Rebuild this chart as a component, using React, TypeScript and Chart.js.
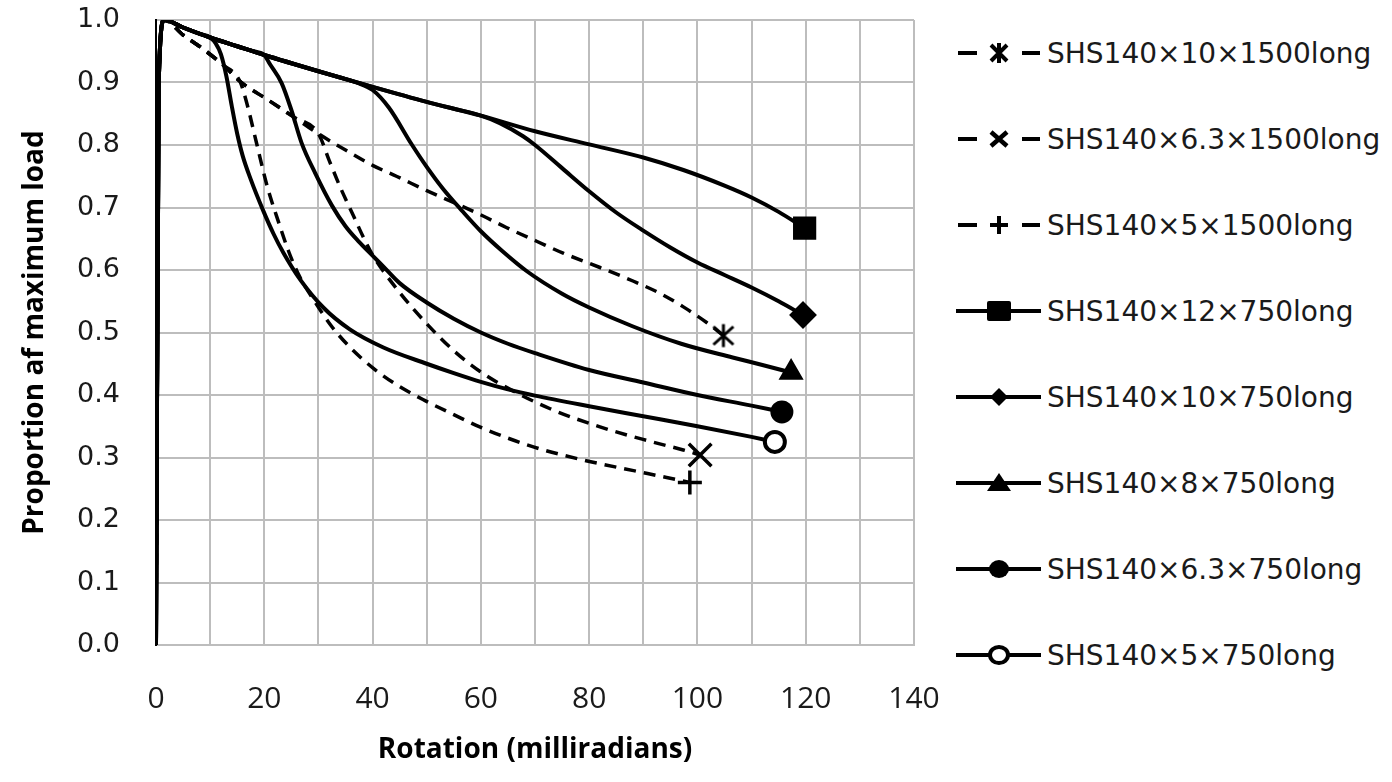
import React, { useEffect, useRef } from "react";
import { Chart, registerables } from "chart.js";

Chart.register(...registerables);

// ---------------- data ----------------
const seriesLabels = [
  "SHS140×10×1500long",
  "SHS140×6.3×1500long",
  "SHS140×5×1500long",
  "SHS140×12×750long",
  "SHS140×10×750long",
  "SHS140×8×750long",
  "SHS140×6.3×750long",
  "SHS140×5×750long",
];

const xTickLabels = ["0", "20", "40", "60", "80", "100", "120", "140"];
const yTickLabels = ["0.0", "0.1", "0.2", "0.3", "0.4", "0.5", "0.6", "0.7", "0.8", "0.9", "1.0"];

// SHS140×10×1500long
const rot10x1500 = [0, 0.5, 1.5, 5, 8, 12.4, 15.5, 20.7, 25.4, 30, 34.2, 40.1, 44.4, 50, 55.5, 59.8, 64.7, 70.3, 75.2, 82, 88.2, 93, 97.4, 101.7, 104.8];
const load10x1500 = [0, 0.9, 1.0, 0.976, 0.958, 0.928, 0.902, 0.872, 0.845, 0.818, 0.796, 0.767, 0.75, 0.727, 0.706, 0.689, 0.668, 0.646, 0.627, 0.604, 0.582, 0.563, 0.541, 0.516, 0.495];

// SHS140×6.3×1500long
const rot6p3x1500 = [0, 0.5, 1.5, 5, 8, 12.4, 15.5, 20.7, 25.4, 30, 32, 34, 36.4, 38.6, 40, 42, 45.1, 47.5, 51.2, 55.5, 59.8, 63.5, 72.8, 82, 91.2, 97.4, 100.5];
const load6p3x1500 = [0, 0.9, 1.0, 0.976, 0.958, 0.928, 0.902, 0.872, 0.845, 0.818, 0.775, 0.733, 0.688, 0.647, 0.624, 0.598, 0.563, 0.538, 0.503, 0.467, 0.438, 0.418, 0.378, 0.349, 0.326, 0.312, 0.304];

// SHS140×5×1500long
const rot5x1500 = [0, 0.5, 1.5, 5, 8, 12.4, 15.5, 16.8, 18.6, 20.5, 22.7, 24.4, 26.2, 29.5, 32.6, 36.1, 40.1, 44.5, 49.7, 54.9, 60.3, 69.7, 78.9, 88.2, 94.3, 98.6];
const load5x1500 = [0, 0.9, 1.0, 0.976, 0.958, 0.928, 0.902, 0.866, 0.802, 0.735, 0.675, 0.632, 0.595, 0.547, 0.508, 0.474, 0.443, 0.416, 0.391, 0.369, 0.347, 0.317, 0.296, 0.279, 0.268, 0.26];

// SHS140×12×750long
const rot12x750 = [0, 0.5, 1.5, 5, 10, 15, 20, 30, 40, 50, 60, 70, 80, 90, 97.4, 105, 110, 115, 119.8];
const load12x750 = [0, 0.9, 1.0, 0.988, 0.972, 0.958, 0.944, 0.918, 0.893, 0.869, 0.847, 0.822, 0.801, 0.78, 0.76, 0.735, 0.716, 0.693, 0.667];

// SHS140×10×750long
const rot10x750 = [0, 0.5, 1.5, 5, 10, 15, 20, 30, 40, 50, 55, 60, 63.5, 67.8, 70, 75, 80, 85, 90, 95, 100, 105, 110, 115, 119.5];
const load10x750 = [0, 0.9, 1.0, 0.988, 0.972, 0.958, 0.944, 0.918, 0.893, 0.869, 0.858, 0.847, 0.835, 0.814, 0.8, 0.763, 0.726, 0.692, 0.663, 0.636, 0.612, 0.592, 0.572, 0.55, 0.528];

// SHS140×8×750long
const rot8x750 = [0, 0.5, 1.5, 5, 10, 15, 20, 30, 34, 37, 40, 43, 47.3, 50, 53, 56.6, 60, 64, 68.5, 75, 80, 88, 97, 106.5, 112, 117.3];
const load8x750 = [0, 0.9, 1.0, 0.988, 0.972, 0.958, 0.944, 0.918, 0.908, 0.9, 0.888, 0.86, 0.8, 0.765, 0.73, 0.694, 0.662, 0.63, 0.598, 0.562, 0.54, 0.51, 0.482, 0.46, 0.448, 0.436];

// SHS140×6.3×750long
const rot6p3x750 = [0, 0.5, 1.5, 5, 10, 15, 18, 20, 21, 23.2, 25, 26.9, 29.4, 32.5, 35, 37.5, 40, 42.5, 45, 50, 55, 60, 65, 70, 80, 90, 100, 110, 115.6];
const load6p3x750 = [0, 0.9, 1.0, 0.988, 0.972, 0.958, 0.95, 0.944, 0.93, 0.899, 0.856, 0.803, 0.755, 0.703, 0.67, 0.645, 0.623, 0.601, 0.579, 0.548, 0.522, 0.5, 0.482, 0.467, 0.44, 0.42, 0.4, 0.383, 0.373];

// SHS140×5×750long
const rot5x750 = [0, 0.5, 1.5, 5, 8, 10, 11, 12, 13, 14, 15, 16, 17.5, 19.8, 21.7, 23.5, 26.6, 30.9, 35.8, 42, 50, 55, 60, 65, 70, 80, 90, 100, 110, 114.3];
const load5x750 = [0, 0.9, 1.0, 0.988, 0.978, 0.972, 0.963, 0.945, 0.91, 0.862, 0.818, 0.783, 0.745, 0.695, 0.658, 0.628, 0.585, 0.54, 0.505, 0.476, 0.45, 0.435, 0.421, 0.409, 0.399, 0.382, 0.366, 0.35, 0.333, 0.325];

type Marker = "asterisk" | "x" | "plus" | "square" | "diamond" | "triangle" | "dot" | "ring";

const series: { label: string; xs: number[]; ys: number[]; dashed: boolean; marker: Marker }[] = [
  { label: seriesLabels[0], xs: rot10x1500, ys: load10x1500, dashed: true, marker: "asterisk" },
  { label: seriesLabels[1], xs: rot6p3x1500, ys: load6p3x1500, dashed: true, marker: "x" },
  { label: seriesLabels[2], xs: rot5x1500, ys: load5x1500, dashed: true, marker: "plus" },
  { label: seriesLabels[3], xs: rot12x750, ys: load12x750, dashed: false, marker: "square" },
  { label: seriesLabels[4], xs: rot10x750, ys: load10x750, dashed: false, marker: "diamond" },
  { label: seriesLabels[5], xs: rot8x750, ys: load8x750, dashed: false, marker: "triangle" },
  { label: seriesLabels[6], xs: rot6p3x750, ys: load6p3x750, dashed: false, marker: "dot" },
  { label: seriesLabels[7], xs: rot5x750, ys: load5x750, dashed: false, marker: "ring" },
];

// ---------------- helpers ----------------
function makeAsterisk(): HTMLCanvasElement {
  const size = 28;
  const c = document.createElement("canvas");
  c.width = size;
  c.height = size;
  const g = c.getContext("2d")!;
  g.strokeStyle = "#000";
  g.lineWidth = 3;
  const m = size / 2;
  g.beginPath();
  g.moveTo(m, m - 11.5);
  g.lineTo(m, m + 11.5);
  g.moveTo(m - 10, m - 9);
  g.lineTo(m + 10, m + 9);
  g.moveTo(m + 10, m - 9);
  g.lineTo(m - 10, m + 9);
  g.stroke();
  return c;
}

function markerOptions(marker: Marker, asterisk: HTMLCanvasElement) {
  switch (marker) {
    case "asterisk":
      return { style: asterisk as any, r: 10, bw: 0, bg: "#000" };
    case "x":
      return { style: "crossRot", r: 16, bw: 3.5, bg: "#000" };
    case "plus":
      return { style: "cross", r: 12, bw: 3.5, bg: "#000" };
    case "square":
      return { style: "rect", r: 15, bw: 2, bg: "#000" };
    case "diamond":
      return { style: "rectRot", r: 12.5, bw: 2, bg: "#000" };
    case "triangle":
      return { style: "triangle", r: 12.5, bw: 2, bg: "#000" };
    case "dot":
      return { style: "circle", r: 10.5, bw: 2, bg: "#000" };
    case "ring":
    default:
      return { style: "circle", r: 10, bw: 4, bg: "#fff" };
  }
}

function LegendGlyph({ marker, dashed }: { marker: Marker; dashed: boolean }) {
  const cx = 49;
  const cy = 20;
  const s = { stroke: "#000", strokeWidth: 4 };
  const lines = dashed ? (
    <>
      <line x1={8} y1={cy} x2={27} y2={cy} {...s} />
      <line x1={72} y1={cy} x2={90} y2={cy} {...s} />
    </>
  ) : (
    <line x1={6} y1={cy} x2={91} y2={cy} {...s} />
  );
  let m: React.ReactNode = null;
  switch (marker) {
    case "asterisk":
      m = (
        <path
          d={`M${cx} ${cy - 10}V${cy + 10}M${cx - 8} ${cy - 8}L${cx + 8} ${cy + 8}M${cx + 8} ${cy - 8}L${cx - 8} ${cy + 8}`}
          stroke="#000"
          strokeWidth={4}
          fill="none"
        />
      );
      break;
    case "x":
      m = (
        <path
          d={`M${cx - 8} ${cy - 7}L${cx + 8} ${cy + 7}M${cx + 8} ${cy - 7}L${cx - 8} ${cy + 7}`}
          stroke="#000"
          strokeWidth={4.5}
          fill="none"
        />
      );
      break;
    case "plus":
      m = (
        <path d={`M${cx - 9} ${cy}H${cx + 9}M${cx} ${cy - 9}V${cy + 9}`} stroke="#000" strokeWidth={4} fill="none" />
      );
      break;
    case "square":
      m = <rect x={cx - 12} y={cy - 10} width={24} height={20} rx={2} fill="#000" />;
      break;
    case "diamond":
      m = <polygon points={`${cx},${cy - 9} ${cx + 9},${cy} ${cx},${cy + 9} ${cx - 9},${cy}`} fill="#000" />;
      break;
    case "triangle":
      m = <polygon points={`${cx},${cy - 10} ${cx + 12},${cy + 8} ${cx - 12},${cy + 8}`} fill="#000" />;
      break;
    case "dot":
      m = <ellipse cx={cx} cy={cy} rx={10} ry={9} fill="#000" />;
      break;
    case "ring":
      m = <ellipse cx={cx} cy={cy} rx={9} ry={8} fill="#fff" stroke="#000" strokeWidth={4} />;
      break;
  }
  return (
    <svg width={97} height={40} style={{ display: "block", flex: "0 0 auto" }}>
      {lines}
      {m}
    </svg>
  );
}

// ---------------- component ----------------
export default function App() {
  const ref = useRef<HTMLCanvasElement>(null);

  useEffect(() => {
    if (!ref.current) return;
    const asterisk = makeAsterisk();

    const datasets = series.map((s) => {
      const mo = markerOptions(s.marker, asterisk);
      const n = s.xs.length;
      return {
        label: s.label,
        data: s.xs.map((x, i) => ({ x, y: s.ys[i] })),
        borderColor: "#000",
        backgroundColor: mo.bg,
        borderWidth: s.dashed ? 3.5 : 4,
        borderDash: s.dashed ? [12, 8] : [],
        borderCapStyle: "butt" as const,
        borderJoinStyle: "round" as const,
        cubicInterpolationMode: "monotone" as const,
        fill: false,
        pointStyle: mo.style,
        pointRadius: (ctx: any) => (ctx.dataIndex === n - 1 ? mo.r : 0),
        pointHoverRadius: (ctx: any) => (ctx.dataIndex === n - 1 ? mo.r : 0),
        pointBorderWidth: mo.bw,
        pointBorderColor: "#000",
        pointBackgroundColor: mo.bg,
      };
    });

    const chart = new Chart(ref.current, {
      type: "line",
      data: { datasets: datasets as any },
      options: {
        animation: false,
        responsive: false,
        maintainAspectRatio: false,
        events: [],
        layout: { padding: { left: 0, right: 31, top: 20, bottom: 0 } },
        plugins: {
          legend: { display: false },
          tooltip: { enabled: false },
          title: { display: false },
        },
        scales: {
          x: {
            type: "linear",
            min: 0,
            max: 140,
            afterFit: (scale: any) => {
              scale.height = 137;
            },
            ticks: {
              stepSize: 10,
              autoSkip: false,
              maxRotation: 0,
              padding: 0,
              color: "#1a1a1a",
              font: { family: "'Open Sans'", size: 30 },
              callback: (v: any) => {
                const idx = xTickLabels.indexOf(String(v));
                return idx >= 0 ? xTickLabels[idx] : "";
              },
            },
            grid: {
              color: "#bdbdbd",
              lineWidth: 2,
              drawTicks: true,
              tickLength: 36,
              tickColor: "rgba(0,0,0,0)",
            },
            border: { color: "#bdbdbd", width: 2 },
            title: {
              display: true,
              text: "Rotation (milliradians)",
              color: "#000",
              font: { family: "'Open Sans'", size: 28, weight: "bold" },
              padding: { top: 0, bottom: 15 },
            },
          },
          y: {
            type: "linear",
            min: 0,
            max: 1,
            afterFit: (scale: any) => {
              scale.width = 156;
            },
            ticks: {
              stepSize: 0.1,
              autoSkip: false,
              padding: 0,
              color: "#1a1a1a",
              font: { family: "'DejaVu Sans'", size: 27 },
              callback: (v: any) => {
                const idx = Math.round(Number(v) * 10);
                return yTickLabels[idx] ?? "";
              },
            },
            grid: {
              color: "#bdbdbd",
              lineWidth: 2,
              drawTicks: true,
              tickLength: 36,
              tickColor: "rgba(0,0,0,0)",
            },
            border: { color: "#000", width: 2 },
            title: {
              display: true,
              text: "Proportion af maximum load",
              color: "#000",
              font: { family: "'Open Sans'", size: 28, weight: "bold" },
              padding: { top: 18, bottom: 0 },
            },
          },
        },
      },
    });

    return () => chart.destroy();
  }, []);

  return (
    <div
      style={{
        position: "absolute",
        left: 0,
        top: 0,
        width: 1392,
        height: 782,
        background: "#fff",
        overflow: "hidden",
      }}
    >
      <canvas
        ref={ref}
        width={945}
        height={782}
        style={{ position: "absolute", left: 0, top: 0, width: 945, height: 782 }}
      />
      <div
        style={{
          position: "absolute",
          left: 950,
          top: 10,
          display: "flex",
          flexDirection: "column",
        }}
      >
        {series.map((s) => (
          <div
            key={s.label}
            style={{
              height: 86,
              display: "flex",
              alignItems: "center",
              fontFamily: "'DejaVu Sans'",
              fontSize: 28,
              color: "#1a1a1a",
              whiteSpace: "nowrap",
            }}
          >
            <LegendGlyph marker={s.marker} dashed={s.dashed} />
            <span>{s.label}</span>
          </div>
        ))}
      </div>
    </div>
  );
}
